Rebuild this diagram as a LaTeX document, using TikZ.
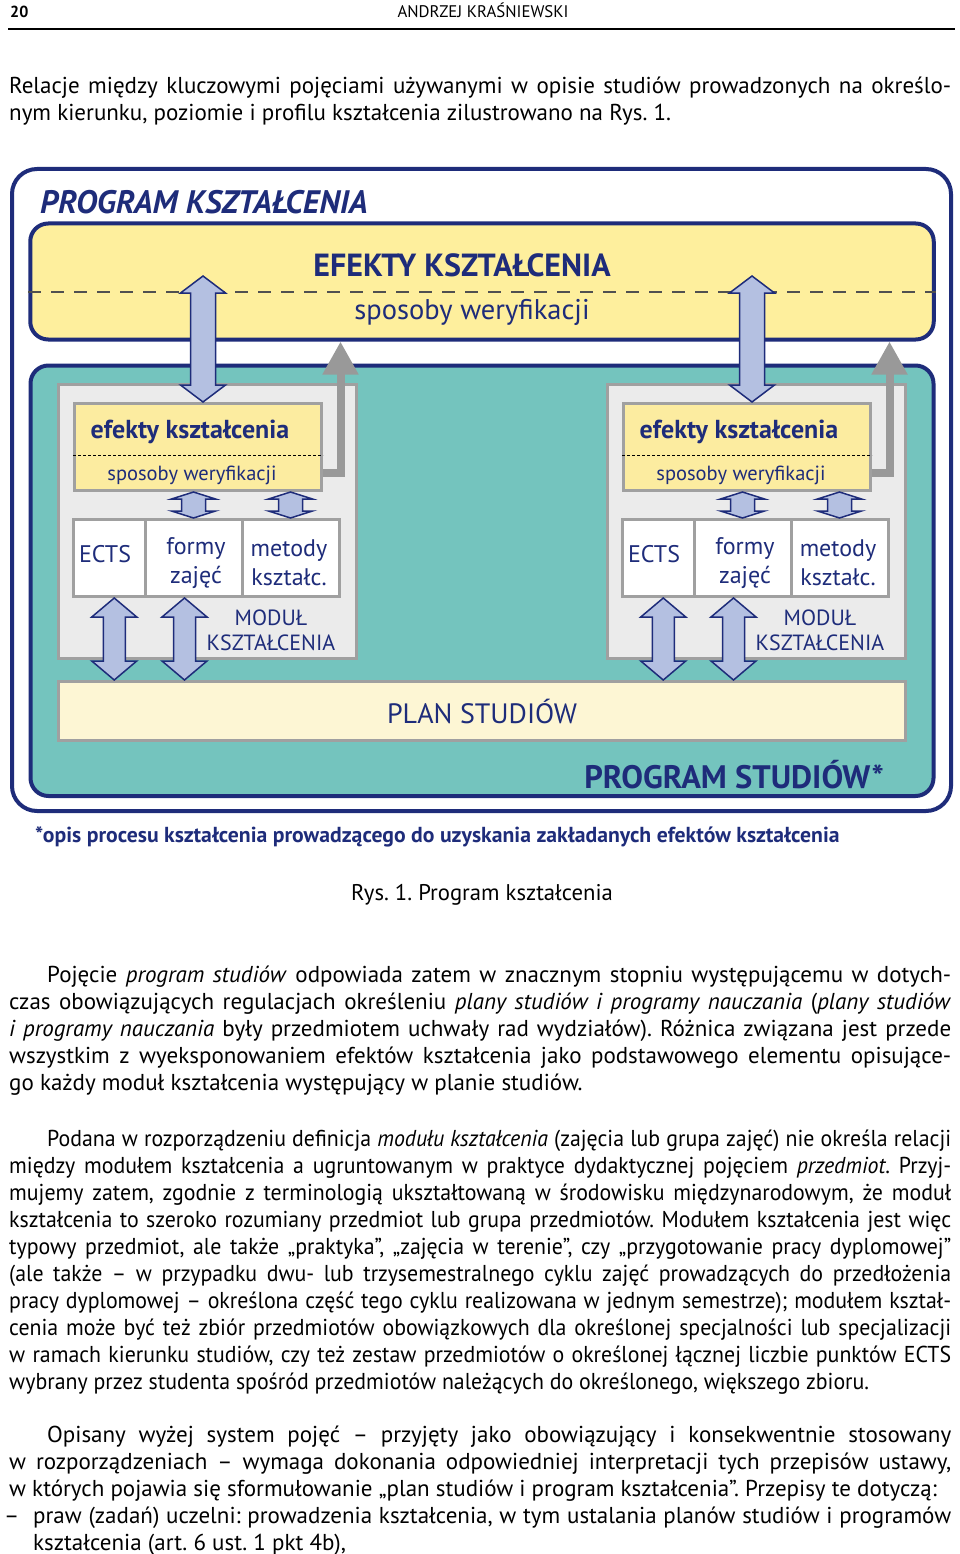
\documentclass[tikz,border=0pt]{standalone}
\usepackage{fontspec}
\setmainfont{PT Sans}
\newfontfamily\narrowfamily{PT Sans}[FakeStretch=0.95]
\usetikzlibrary{arrows.meta,positioning,calc}

\definecolor{navy}{RGB}{30,44,122}
\definecolor{bigyellow}{RGB}{254,239,157}
\definecolor{effyellow}{RGB}{252,236,160}
\definecolor{studteal}{RGB}{116,196,190}
\definecolor{modgray}{RGB}{235,235,235}
\definecolor{modline}{RGB}{160,160,160}
\definecolor{arrowfill}{RGB}{180,192,225}
\definecolor{grayarrow}{RGB}{153,153,153}
\definecolor{planfill}{RGB}{253,246,212}
\definecolor{dashgray}{RGB}{80,80,80}

\frenchspacing
\newcommand\fsz[2]{\fontsize{#1}{#2}\selectfont}
\newcommand\bodyfont{\fsz{23}{27}\tolerance=10000\relax\hyphenpenalty=10000\relax}
% double block arrow between two points on one vertical
\newcommand\dblarrow[5]{%
  \draw[blockarrow] let \p1=#1, \p2=#2 in
    (\x1,\y1) -- (\x1+#4pt,\y1-#5pt) -- (\x1+#3pt,\y1-#5pt)
    -- (\x1+#3pt,\y2+#5pt) -- (\x1+#4pt,\y2+#5pt) -- (\x1,\y2)
    -- (\x1-#4pt,\y2+#5pt) -- (\x1-#3pt,\y2+#5pt)
    -- (\x1-#3pt,\y1-#5pt) -- (\x1-#4pt,\y1-#5pt) -- cycle;}

\begin{document}
\begin{tikzpicture}[x=1pt,y=-1pt,
    para/.style={anchor=north west,inner sep=0pt,text width=942pt,align=justify,font=\bodyfont},
    frame/.style={draw=navy,line width=4pt,rounded corners=18pt},
    modbox/.style={draw=modline,line width=3pt,fill=modgray},
    cell/.style={draw=modline,line width=3pt,fill=white,minimum height=77pt},
    blockarrow/.style={draw=navy,line width=1.5pt,fill=arrowfill,line join=miter},
    grayarr/.style={draw=grayarrow,line width=8pt,-{Triangle[width=34pt,length=33pt]}},
    lbl/.style={text=navy,inner sep=0pt}]

  \useasboundingbox (0,0) rectangle (960,1554);

  % page head
  \node[anchor=base west,inner sep=0pt,font=\fsz{16}{19}\bfseries] (pagenum) at (10,18) {20};
  \node[anchor=base,inner sep=0pt,font=\fsz{16.8}{19}] (author) at (483,18) {ANDRZEJ KRAŚNIEWSKI};
  \draw[line width=2pt] (8,29) -- (955,29);

  \node[para] (intro) at (9,74.1) {\strut Relacje między kluczowymi pojęciami używanymi w opisie studiów prowadzonych na określo-\linebreak
    nym kierunku, poziomie i profilu kształcenia zilustrowano na Rys.~1.};

  % figure
  \node[frame,rounded corners=25pt,fill=white,minimum width=939pt,minimum height=642pt] (prog) at (481.5,490) {};
  \node[lbl,anchor=west,font=\fsz{32.5}{38}\bfseries\itshape] (progtxt) at (40,202) {PROGRAM KSZTAŁCENIA};

  \node[frame,fill=bigyellow,minimum width=903.5pt,minimum height=116pt] (efekty) at (482,281.5) {};
  \draw[dashgray,line width=1.3pt,dash pattern=on 13pt off 10pt] (efekty.west |- 0,292) -- (efekty.east |- 0,292);
  \node[lbl,font=\fsz{32}{38}\bfseries] (efektytxt) at (462,265) {EFEKTY KSZTAŁCENIA};
  \node[lbl,font=\fsz{28.5}{34}] (weryftxt) at (472,312) {sposoby weryfikacji};

  \node[frame,fill=studteal,minimum width=903pt,minimum height=430.5pt] (studia) at (482,580.75) {};
  \node[draw=modline,line width=3pt,fill=planfill,minimum width=847pt,minimum height=59pt,
    text=navy,font=\fsz{28}{33}] (plan) at (482,711) {PLAN STUDIÓW};
  \node[lbl,anchor=east,font=\fsz{32.5}{38}\bfseries] (studiatxt) at (884,775) {PROGRAM STUDIÓW*};

  % two modules
  \foreach \m/\dx in {L/0,R/549}{
    \begin{scope}[xshift=\dx pt]
      \node[modbox,minimum width=298pt,minimum height=274pt] (mod\m) at (207.5,521.5) {};
      \node[modbox,fill=effyellow,minimum width=247pt,minimum height=87pt] (eff\m) at (198,447) {};
      \draw[black,line width=0.8pt,dash pattern=on 3pt off 2pt] (eff\m.west |- 0,455) -- (eff\m.east |- 0,455);
      \node[lbl,font=\fsz{26}{30}\bfseries] (efftxt\m) at (190,432) {efekty kształcenia};
      \node[lbl,font=\fsz{20.5}{24}] (weryf\m) at (192,475) {sposoby weryfikacji};
      \node[cell,minimum width=71.5pt] (ects\m) at (109.25,558) {};
      \node[cell,minimum width=97pt] (formy\m) at (193.5,558) {};
      \node[cell,minimum width=97pt] (metody\m) at (290.5,558) {};
      \node[lbl,font=\fsz{24}{29}] (ectstxt\m) at (105,554) {ECTS};
      \node[lbl,align=center,font=\fsz{24}{29}] (formytxt\m) at (196,563) {formy\\zajęć};
      \node[lbl,align=center,font=\fsz{24}{29}] (metodytxt\m) at (289,563) {metody\\kształc.};
      \node[lbl,align=center,font=\fsz{22}{25}] (modtxt\m) at (271,630) {MODUŁ\\KSZTAŁCENIA};
      \coordinate (tip\m) at (203,276);
    \end{scope}}

  \foreach \m in {L,R}{
    \dblarrow{(tip\m)}{(tip\m |- eff\m.north)}{12.5}{22.5}{17}
    \dblarrow{(formy\m.north |- eff\m.south)}{(formy\m.north)}{12}{22}{7}
    \dblarrow{(metody\m.north |- eff\m.south)}{(metody\m.north)}{12}{22}{7}
    \dblarrow{([xshift=5pt]ects\m.south)}{([xshift=5pt]ects\m.south |- plan.north)}{11}{22.5}{19}
    \dblarrow{([xshift=-9pt]formy\m.south)}{([xshift=-9pt]formy\m.south |- plan.north)}{11}{22.5}{19}
    \draw[grayarr] ([yshift=-26pt]eff\m.east) -| ([xshift=17.5pt]eff\m.east |- efekty.south);
  }

  \node[lbl,anchor=base west,font=\fsz{21.7}{26}\bfseries] (footnote) at (35,842)
    {*opis procesu kształcenia prowadzącego do uzyskania zakładanych efektów kształcenia};
  \node[anchor=base,inner sep=0pt,font=\fsz{22.7}{27}] (caption) at (482,900) {Rys. 1. Program kształcenia};

  % text below the figure
  \node[para] (pojecie) at (9,963.1) {\strut\hspace*{38pt}Pojęcie \textit{program studiów} odpowiada zatem w znacznym stopniu występującemu w dotych-\linebreak
    czas obowiązujących regulacjach określeniu \textit{plany studiów i programy nauczania} (\textit{plany studiów}\linebreak
    \textit{i programy nauczania} były przedmiotem uchwały rad wydziałów). Różnica związana jest przede\linebreak
    wszystkim z wyeksponowaniem efektów kształcenia jako podstawowego elementu opisujące-\linebreak
    go każdy moduł kształcenia występujący w planie studiów.};

  \node[para,font=\bodyfont\narrowfamily] (modul) at (9,1127.1) {\strut\hspace*{38pt}Podana w rozporządzeniu definicja \textit{modułu kształcenia} (zajęcia lub grupa zajęć) nie określa relacji\linebreak
    między modułem kształcenia a ugruntowanym w praktyce dydaktycznej pojęciem \textit{przedmiot}. Przyj-\linebreak
    mujemy zatem, zgodnie z terminologią ukształtowaną w środowisku międzynarodowym, że moduł\linebreak
    kształcenia to szeroko rozumiany przedmiot lub grupa przedmiotów. Modułem kształcenia jest więc\linebreak
    typowy przedmiot, ale także „praktyka”, „zajęcia w terenie”, czy „przygotowanie pracy dyplomowej”\linebreak
    (ale także – w przypadku dwu- lub trzysemestralnego cyklu zajęć prowadzących do przedłożenia\linebreak
    pracy dyplomowej – określona część tego cyklu realizowana w jednym semestrze); modułem kształ-\linebreak
    cenia może być też zbiór przedmiotów obowiązkowych dla określonej specjalności lub specjalizacji\linebreak
    w ramach kierunku studiów, czy też zestaw przedmiotów o określonej łącznej liczbie punktów ECTS\linebreak
    wybrany przez studenta spośród przedmiotów należących do określonego, większego zbioru.};

  \node[para] (system) at (9,1423.1) {\strut\hspace*{38pt}Opisany wyżej system pojęć – przyjęty jako obowiązujący i konsekwentnie stosowany\linebreak
    w rozporządzeniach – wymaga dokonania odpowiedniej interpretacji tych przepisów ustawy,\linebreak
    w których pojawia się sformułowanie „plan studiów i program kształcenia”. Przepisy te dotyczą:};
  \node[para,text width=918pt] (item) at (33,1504.1) {\strut\llap{–\hspace{14pt}}praw (zadań) uczelni: prowadzenia kształcenia, w tym ustalania planów studiów i programów\linebreak
    kształcenia (art. 6 ust. 1 pkt 4b),};
\end{tikzpicture}
\end{document}
